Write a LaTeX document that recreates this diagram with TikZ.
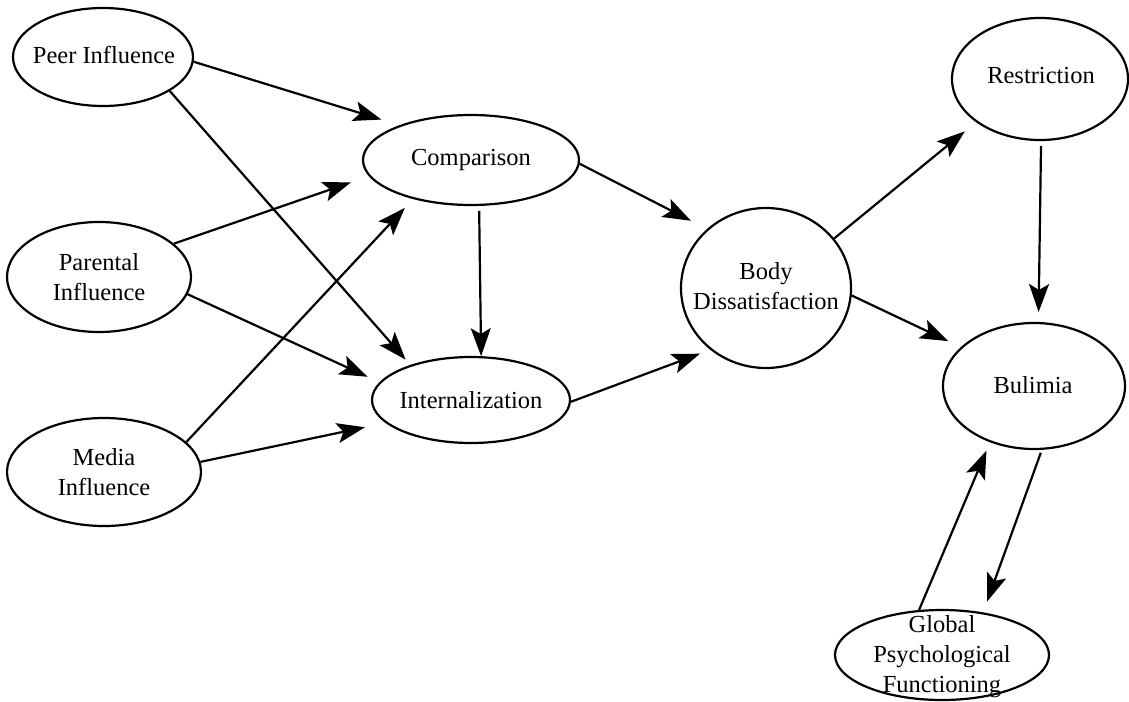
\documentclass[tikz,border=0pt]{standalone}
\usepackage{fontspec}
\setmainfont{Liberation Serif}
\usetikzlibrary{shapes.geometric,arrows.meta}
\begin{document}
\begin{tikzpicture}[x=1pt,y=-1pt,
  ell/.style={ellipse,draw,line width=2.2pt,inner sep=0pt},
  lbl/.style={align=center,font=\fontsize{24.5}{30}\selectfont,inner sep=0pt},
  arr/.style={line width=2.2pt,-{Stealth[length=28pt,width=20pt,inset=6pt]}}]
\useasboundingbox (0,0) rectangle (1129,701);
% ellipses
\node[ell,minimum width=180pt,minimum height=98pt] (peer) at (103,57) {};
\node[ell,minimum width=184pt,minimum height=110pt] (par) at (99,277) {};
\node[ell,minimum width=194pt,minimum height=108pt] (media) at (104,472) {};
\node[ell,minimum width=216pt,minimum height=90pt] (comp) at (471,160) {};
\node[ell,minimum width=198pt,minimum height=86pt] (intern) at (471,400) {};
\node[ell,minimum width=170pt,minimum height=160pt] (body) at (766,288) {};
\node[ell,minimum width=176pt,minimum height=122pt] (restr) at (1040,79) {};
\node[ell,minimum width=182pt,minimum height=126pt] (bul) at (1034,386) {};
\node[ell,minimum width=214pt,minimum height=90pt] (glob) at (942,655) {};
% labels
\node[lbl] (peerT) at (104,55) {Peer Influence};
\node[lbl] (parT) at (99,277) {Parental\\Influence};
\node[lbl] (mediaT) at (104,472) {Media\\Influence};
\node[lbl] (compT) at (471,160) {Comparison};
\node[lbl] (internT) at (471,400) {Internalization};
\node[lbl] (bodyT) at (766,286) {Body\\Dissatisfaction};
\node[lbl] (restrT) at (1041,76) {Restriction};
\node[lbl] (bulT) at (1033,385) {Bulimia};
\node[lbl] (globT) at (942,657) {Global\\Psychological\\Functioning};
% arrows
\draw[arr,shorten >=19pt] (peer.-3) -- (comp.154.7);
\draw[arr,shorten >=7pt] (peer.-27) -- (intern.150);
\draw[arr,shorten >=19pt] (par.24) -- (comp.-171.5);
\draw[arr,shorten >=13pt] (par.-11.6) -- (intern.169);
\draw[arr,shorten >=12pt] (media.20) -- (comp.-146);
\draw[arr,shorten >=21pt] (media.6) -- (intern.-165.7);
\draw[arr,shorten <=5pt] (comp.-80) -- (intern.77);
\draw[arr,shorten >=18pt] (comp.-2.6) -- (body.135);
\draw[arr,shorten >=11pt] (intern.-1) -- (body.-132.4);
\draw[arr,shorten >=14.5pt] (body.36.7) -- (restr.-146.7);
\draw[arr,shorten >=14pt] (body.-5.3) -- (bul.152.9);
\draw[arr,shorten <=5pt,shorten >=10pt] (restr.-89) -- (bul.86);
\draw[arr,shorten >=9pt] (glob.117) -- (bul.-128.3);
\draw[arr,shorten <=3pt,shorten >=11.5pt] (bul.-83) -- (glob.46.2);
\end{tikzpicture}
\end{document}
